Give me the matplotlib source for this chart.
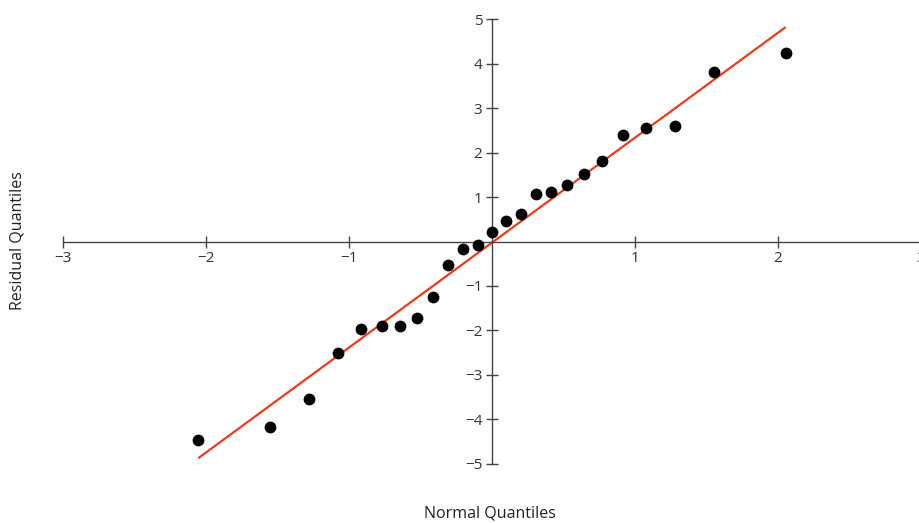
import matplotlib
matplotlib.use("Agg")
import matplotlib.pyplot as plt

# Data
normal_q = [-2.054, -1.555, -1.282, -1.080, -0.915, -0.772, -0.643, -0.524, -0.412,
            -0.305, -0.202, -0.100, 0.0, 0.100, 0.202, 0.305, 0.412, 0.524, 0.643,
            0.772, 0.915, 1.080, 1.282, 1.555, 2.054]
residual_q = [-4.47, -4.17, -3.55, -2.52, -1.98, -1.90, -1.90, -1.73, -1.26,
              -0.54, -0.17, -0.08, 0.21, 0.47, 0.62, 1.07, 1.11, 1.27, 1.52,
              1.81, 2.40, 2.55, 2.60, 3.82, 4.25]
line_x = [-2.054, 2.054]
line_y = [-4.88, 4.83]
x_ticks = [-3, -2, -1, 1, 2, 3]
y_ticks = [-5, -4, -3, -2, -1, 1, 2, 3, 4, 5]

plt.rcParams['font.family'] = ['Open Sans', 'DejaVu Sans']

W, H = 919, 523
fig = plt.figure(figsize=(W / 100, H / 100), dpi=100)
left, right = 63, 921
bottom, top = 523 - 463.5, 523 - 19.5
ax = fig.add_axes([left / W, bottom / H, (right - left) / W, (top - bottom) / H])
ax.set_xlim(-3, 3)
ax.set_ylim(-5, 5)

ax.plot(line_x, line_y, color='#f2391c', lw=1.6, zorder=2, solid_capstyle='butt')
ax.scatter(normal_q, residual_q, s=72, color='black', zorder=3, linewidths=0)

for s in ['top', 'right']:
    ax.spines[s].set_visible(False)
ax.spines['left'].set_position(('data', 0))
ax.spines['bottom'].set_position(('data', 0))
for s in ['left', 'bottom']:
    ax.spines[s].set_color('#444444')
    ax.spines[s].set_linewidth(1.0)

ax.set_xticks(x_ticks)
ax.set_yticks(y_ticks)
ax.set_xticklabels(['\u2212' + str(abs(t)) if t < 0 else str(t) for t in x_ticks])
ax.set_yticklabels(['\u2212' + str(abs(t)) if t < 0 else str(t) for t in y_ticks])
ax.tick_params(axis='both', direction='inout', length=8, width=1.0, color='#444444',
               labelsize=11, labelcolor='#333333')
ax.tick_params(axis='x', pad=3)
ax.tick_params(axis='y', pad=3)
for lbl in ax.get_xticklabels() + ax.get_yticklabels():
    lbl.set_clip_on(False)

fig.text(18 / W, 1 - 241 / H, 'Residual Quantiles', rotation=90, ha='center', va='center',
         fontsize=11.5, color='#222222')
fig.text(490 / W, 1 - 514 / H, 'Normal Quantiles', ha='center', va='center',
         fontsize=11.5, color='#222222')

fig.savefig('out.png', dpi=100, facecolor='white')
